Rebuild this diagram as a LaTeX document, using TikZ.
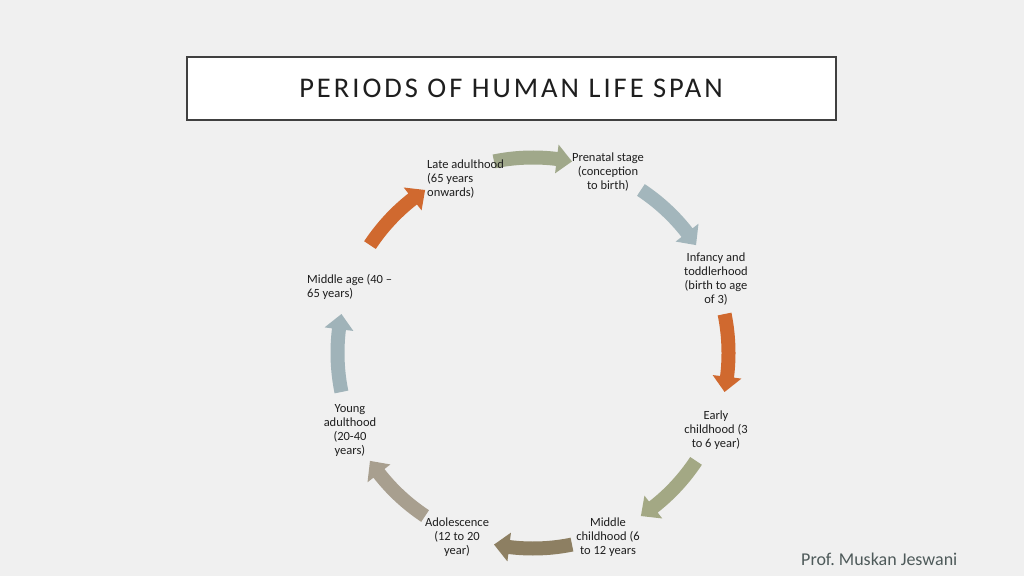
\documentclass[tikz,border=0pt]{standalone}
\usepackage{fontspec}
\setmainfont{Carlito}
\newfontfamily\titlefont[LetterSpace=10.5]{Carlito}
\definecolor{bg}{HTML}{F0F0F0}
\definecolor{boxline}{HTML}{404040}
\definecolor{txt}{HTML}{1E1E1E}
\definecolor{foot}{HTML}{4E5A5A}
\definecolor{cOlive}{HTML}{A0A88A}
\definecolor{cBlue}{HTML}{A3B6BC}
\definecolor{cOrange}{HTML}{D0692F}
\definecolor{cOliveB}{HTML}{A3A884}
\definecolor{cBrown}{HTML}{8D7F62}
\definecolor{cTaupe}{HTML}{A89F8F}
\definecolor{cBlueL}{HTML}{A0B3B9}
\newcommand\cyclearrow[2]{%
  \fill[#1] ({#2+11.5}:202.5pt) arc[start angle={#2+11.5}, end angle={#2-7}, radius=202.5pt]
    -- ({#2-7}:210pt) -- ({#2-11.5}:195.5pt) -- ({#2-7}:181pt) -- ({#2-7}:188.5pt)
    arc[start angle={#2-7}, end angle={#2+11.5}, radius=188.5pt] -- cycle;}
\tikzset{
  stage/.style={inner sep=0pt, text=txt, font=\fontsize{12.5}{14}\selectfont, align=center},
  stageL/.style={stage, align=left, anchor=west},
}
\begin{document}
\begin{tikzpicture}[x=1pt,y=1pt]
\fill[bg] (0,0) rectangle (1024,576);
\useasboundingbox (0,0) rectangle (1024,576);
% title
\node[draw=boxline, line width=2.5pt, fill=white, minimum width=649pt, minimum height=63pt, inner sep=0pt] (titlebox) at (511.5,487.5) {};
\node[text=txt, font=\titlefont\fontsize{28.5}{30}\selectfont, inner sep=0pt] (title) at (511,488) {PERIODS OF HUMAN LIFE SPAN};
% arrows
\begin{scope}[shift={(533,223)}]
\cyclearrow{cOlive}{90}
\cyclearrow{cBlue}{45}
\cyclearrow{cOrange}{0}
\cyclearrow{cOliveB}{-45}
\cyclearrow{cBrown}{-90}
\cyclearrow{cTaupe}{-135}
\cyclearrow{cBlueL}{180}
\cyclearrow{cOrange}{135}
\end{scope}
% stages
\node[stage] (prenatal) at (608,404) {Prenatal stage\\(conception\\to birth)};
\node[stage] (infancy) at (716,297) {Infancy and\\toddlerhood\\(birth to age\\of 3)};
\node[stage] (early) at (716,145.5) {Early\\childhood (3\\to 6 year)};
\node[stage] (middlec) at (608,38.5) {Middle\\childhood (6\\to 12 years};
\node[stage] (adol) at (457,38.5) {Adolescence\\(12 to 20\\year)};
\node[stage] (young) at (350,145.5) {Young\\adulthood\\(20-40\\years)};
\node[stageL] (midage) at (307,289) {Middle age (40 –\\65 years)};
\node[stageL] (late) at (427,397) {Late adulthood\\(65 years\\onwards)};
% footer
\node[text=foot, font=\fontsize{18}{20}\selectfont, inner sep=0pt, anchor=west] (author) at (801,17) {Prof.\ Muskan Jeswani};
\end{tikzpicture}
\end{document}
